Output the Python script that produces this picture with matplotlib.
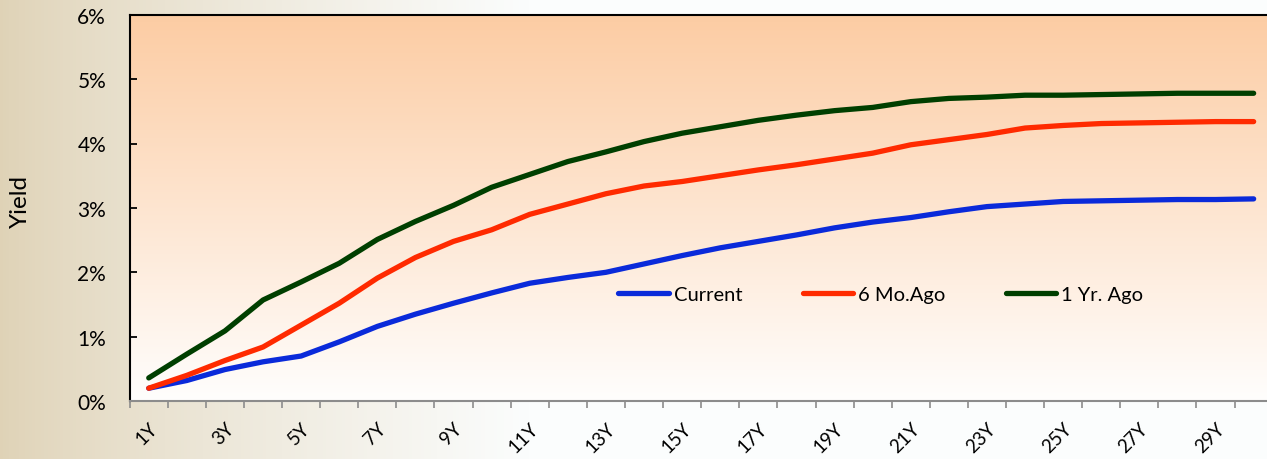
import numpy as np
import matplotlib
matplotlib.use("Agg")
import matplotlib.pyplot as plt
from matplotlib.ticker import FuncFormatter

# ---- data ----
categories = [f"{i}Y" for i in range(1, 31)]
current = [0.20, 0.32, 0.49, 0.61, 0.70, 0.92, 1.16, 1.35, 1.52, 1.68,
           1.83, 1.92, 2.00, 2.13, 2.26, 2.38, 2.48, 2.58, 2.69, 2.78,
           2.85, 2.94, 3.02, 3.06, 3.10, 3.11, 3.12, 3.13, 3.13, 3.14]
six_mo_ago = [0.20, 0.40, 0.63, 0.84, 1.18, 1.52, 1.91, 2.23, 2.48, 2.66,
              2.90, 3.06, 3.22, 3.34, 3.41, 3.50, 3.59, 3.67, 3.76, 3.85,
              3.98, 4.06, 4.14, 4.24, 4.28, 4.31, 4.32, 4.33, 4.34, 4.34]
one_yr_ago = [0.36, 0.73, 1.09, 1.57, 1.85, 2.14, 2.51, 2.79, 3.04, 3.32,
              3.52, 3.72, 3.87, 4.03, 4.16, 4.26, 4.36, 4.44, 4.51, 4.56,
              4.65, 4.70, 4.72, 4.75, 4.75, 4.76, 4.77, 4.78, 4.78, 4.78]
series_names = ["Current", "6 Mo.Ago", "1 Yr. Ago"]
series_colors = ["#0A2ADA", "#FF2A00", "#003F00"]
y_ticks = [0, 1, 2, 3, 4, 5, 6]

W, H = 1267, 460
fig = plt.figure(figsize=(W / 100, H / 100), dpi=100)

# figure background gradient (beige on the left fading to near white)
bg = fig.add_axes([0, 0, 1, 1], zorder=-10)
bg.set_axis_off()
xs = np.linspace(0, 1, 400)
t = np.clip(xs / 0.42, 0, 1) ** 0.8
c0 = np.array([0.875, 0.825, 0.715])
c1 = np.array([0.985, 0.993, 0.993])
row = c0[None, :] * (1 - t[:, None]) + c1[None, :] * t[:, None]
bg.imshow(row[None, :, :], aspect="auto", extent=[0, 1, 0, 1])
bg.set_xlim(0, 1)
bg.set_ylim(0, 1)

# main axes (right edge extends past the figure)
left_px, right_px = 129.7, 129.7 + 30 * 38.1
top_px, bot_px = 15.7, 402.1
ax = fig.add_axes([left_px / W, (H - bot_px) / H,
                   (right_px - left_px) / W, (bot_px - top_px) / H])

# plot-area gradient (peach top -> white bottom)
ys = np.linspace(0, 1, 300)
ctop = np.array([0.988, 0.800, 0.640])
cbot = np.array([1.0, 0.996, 0.992])
col = ctop[None, :] * ys[:, None] + cbot[None, :] * (1 - ys[:, None])
ax.imshow(col[:, None, :], aspect="auto", extent=[0, 30, 0, 6],
          origin="lower", zorder=0)

x = np.arange(len(categories)) + 0.5
for vals, name, c in zip([current, six_mo_ago, one_yr_ago], series_names, series_colors):
    ax.plot(x, vals, color=c, lw=3.8, solid_capstyle="round",
            solid_joinstyle="round", label=name, zorder=3)

ax.set_xlim(0, 30)
ax.set_ylim(0, 6)

ax.set_yticks(y_ticks)
ax.yaxis.set_major_formatter(FuncFormatter(lambda v, p: f"{int(v)}%"))
ax.tick_params(axis="y", direction="in", length=5, width=1.3, color="black",
               labelsize=15, pad=17)
for lab in ax.get_yticklabels():
    lab.set_fontfamily("Lato")

ax.set_xticks(np.arange(0, 31), minor=False)
ax.set_xticklabels([])
ax.tick_params(axis="x", which="major", direction="out", length=5, width=1.2,
               color="#8c8c8c")
ax.set_xticks(x[::2], minor=True)
ax.set_xticklabels(categories[::2], minor=True, rotation=45, ha="right",
                   rotation_mode="anchor", fontsize=13.5, fontfamily="Lato")
ax.tick_params(axis="x", which="minor", length=0, pad=13)

ax.spines["left"].set_color("black")
ax.spines["left"].set_linewidth(1.5)
ax.spines["top"].set_color("black")
ax.spines["top"].set_linewidth(1.5)
ax.spines["bottom"].set_color("#8c8c8c")
ax.spines["bottom"].set_linewidth(1.5)
ax.spines["right"].set_visible(False)

fig.text(20 / W, 1 - 201 / H, "Yield", rotation=90, ha="center", va="center",
         fontsize=17.5, fontfamily="Lato")

leg = ax.legend(loc="center", bbox_to_anchor=(0.657, 0.275), ncol=3,
                frameon=False, handlelength=2.5, handletextpad=0.25,
                columnspacing=3.0, prop={"family": "Lato", "size": 14.5})

fig.savefig("out.png", dpi=100)
